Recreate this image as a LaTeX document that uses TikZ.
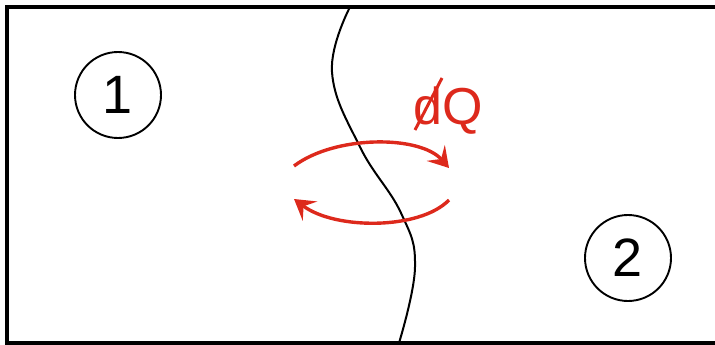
\documentclass[tikz,border=0pt]{standalone}
\usepackage{fontspec}
\setmainfont{Liberation Sans}
\usetikzlibrary{arrows.meta,calc}
\definecolor{HeatR}{RGB}{221, 41, 28}

\begin{document}
\begin{tikzpicture}[x=1pt,y=-1pt,
    region/.style={draw,circle,line width=1.9pt,minimum size=86pt,inner sep=0pt,
      font=\fontsize{54}{54}\selectfont},
    heat/.style={HeatR,line width=3.4pt,
      -{Stealth[length=20pt,width=24pt,inset=8pt]}}]
  \useasboundingbox (0,0) rectangle (715,345);
  % open box
  \draw[line width=4.5pt] (715,7) -- (7,7) -- (7,343) -- (715,343);
  % wall between the two systems
  \draw[line width=2pt] plot[smooth,tension=0.7] coordinates
    {(350,7) (332,72) (360,147) (401,213) (415,267) (399,343)};
  \node[region] (one) at (118,95) {1};
  \node[region] (two) at (628,258) {2};
  \coordinate (upA) at (294,166);
  \coordinate (upB) at (449,168);
  \coordinate (loA) at (449,200);
  \coordinate (loB) at (294,199);
  \draw[heat] (upA) .. controls (335,135) and (420,135) .. (upB);
  \draw[heat] (loA) .. controls (420,230) and (335,230) .. (loB);
  \node[HeatR,anchor=base west,inner sep=0pt,font=\fontsize{52}{52}\selectfont]
    (dq) at (413,124) {dQ};
  \draw[HeatR,line width=3pt] ($(dq.base west)+(2,6)$) -- ($(dq.base west)+(29,-46)$);
\end{tikzpicture}
\end{document}
